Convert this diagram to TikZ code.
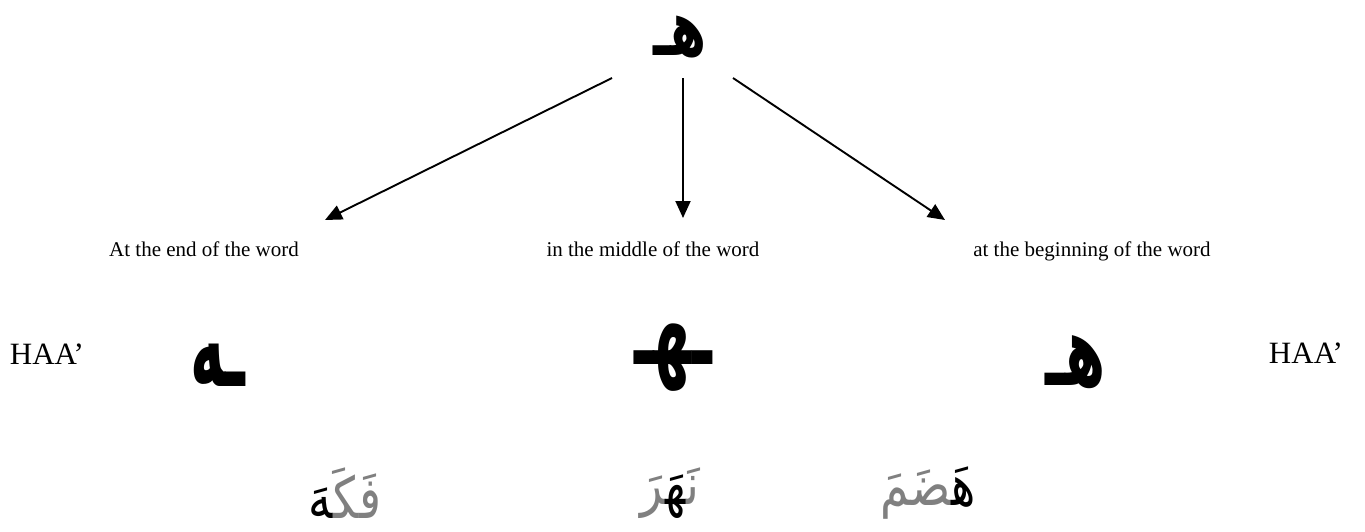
\documentclass[tikz,border=0pt]{standalone}
\usepackage{fontspec}
\usepackage{xcolor}
\usepackage{graphicx}
\setmainfont{Liberation Serif}
\newfontfamily\arabicfont[Script=Arabic]{DejaVu Sans}
\usetikzlibrary{arrows.meta}
\TeXXeTstate=1
\definecolor{lightink}{RGB}{128,128,128}
\newcommand{\zwj}{\char"200D}
% tall Arabic letter, as in the reference
\newcommand{\tallar}[2]{\scalebox{1}[#1]{#2}}

\begin{document}
\begin{tikzpicture}[
  x = 1pt, y = -1pt,
  every node/.style = {inner sep=0pt, anchor=center},
  label/.style      = {font=\fontsize{21}{25}\selectfont, anchor=base},
  haa/.style        = {font=\fontsize{31}{36}\selectfont, anchor=base},
  form/.style       = {font=\arabicfont\bfseries\fontsize{58}{66}\selectfont},
  word/.style       = {font=\arabicfont\fontsize{46}{54}\selectfont, text=lightink},
  branch/.style     = {draw, line width=1.9pt, -{Triangle[length=17pt, width=15pt]}},
]
\useasboundingbox (0,0) rectangle (1365,531);

% top letter
\node[form, font=\arabicfont\bfseries\fontsize{52}{60}\selectfont]
  (top) at (680, 37) {\tallar{1.5}{\beginR هـ\endR}};
% arrow ends
\coordinate (s1) at (612, 78);
\coordinate (s2) at (683, 78);
\coordinate (s3) at (733, 78);
\coordinate (e1) at (325, 220);
\coordinate (e2) at (683, 218);
\coordinate (e3) at (945, 220);
% positions
\node[label] (pend)   at ( 204, 256) {At the end of the word};
\node[label] (pmid)   at ( 653, 256) {in the middle of the word};
\node[label] (pbegin) at (1092, 256) {at the beginning of the word};
% letter forms
\node[haa]  (haaL)  at (  47, 364) {HAA’};
\node[form] (fend)  at ( 218, 365) {\tallar{2.0}{\beginR ـه\endR}};
\node[form] (fmid)  at ( 673, 358) {\tallar{1.9}{\beginR ـهـ\endR}};
\node[form] (fbeg)  at (1076, 362) {\tallar{1.7}{\beginR هـ\endR}};
\node[haa]  (haaR)  at (1306, 363) {HAA’};
% example words, pieces in visual order (left to right)
\node[word] (wend)  at ( 345, 493) {\tallar{1.25}{{\color{black}\zwj هَ}فَكَ\zwj}};
\node[word] (wmid)  at ( 670, 493) {\tallar{1.25}{\zwj رَ{\color{black}\zwj هَ\zwj}نَ\zwj}};
\node[word] (wbeg)  at ( 928, 493) {\tallar{1.25}{\zwj ضَمَ{\color{black}هَ\zwj}}};

\foreach \a/\b in {s1/e1, s2/e2, s3/e3}
  \draw[branch] (\a) -- (\b);

\end{tikzpicture}
\end{document}
